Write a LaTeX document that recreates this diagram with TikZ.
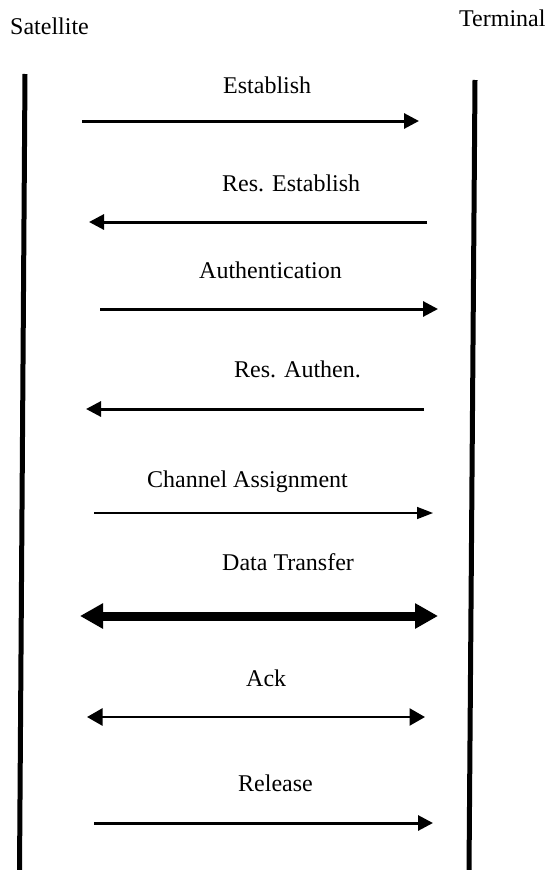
\documentclass[tikz,border=0pt]{standalone}
\usepackage{fontspec}
\setmainfont{Liberation Serif}
\usetikzlibrary{arrows.meta}
\begin{document}
\begin{tikzpicture}[x=1pt,y=-1pt,
  lbl/.style={anchor=base west,inner sep=0pt,font=\fontsize{24}{28}\selectfont},
  life/.style={line width=5pt},
  msg/.style={line width=3pt,-{Triangle[length=15pt,width=15pt]}},
  thinmsg/.style={line width=1.5pt,-{Triangle[length=16pt,width=12pt]}},
  bigmsg/.style={line width=9pt,{Triangle[length=23pt,width=24pt]}-{Triangle[length=23pt,width=24pt]}},
  ackmsg/.style={line width=2.5pt,{Triangle[length=15.5pt,width=17pt]}-{Triangle[length=15.5pt,width=17pt]}}]
\useasboundingbox (0,0) rectangle (547,870);
% headers
\node[lbl] (sat) at (10,34) {Satellite};
\node[lbl] (term) at (459,26) {Terminal};
% lifelines
\coordinate (lt) at (25,74);
\coordinate (lb) at (19.5,872);
\coordinate (rt) at (475,80);
\coordinate (rb) at (469,872);
\draw[life] (lt) -- (lb);
\draw[life] (rt) -- (rb);
% labels
\node[lbl] (l1) at (223,93.5) {Establish};
\node[lbl] (l2) at (222,191) {Res. Establish};
\node[lbl] (l3) at (199,278) {Authentication};
\node[lbl] (l4) at (234,377) {Res. Authen.};
\node[lbl] (l5) at (147,487) {Channel Assignment};
\node[lbl] (l6) at (222,570) {Data Transfer};
\node[lbl] (l7) at (246,686) {Ack};
\node[lbl] (l8) at (238,791) {Release};
% arrow endpoints
\coordinate (a1s) at (82,121);  \coordinate (a1e) at (419,121);
\coordinate (a2s) at (427,222); \coordinate (a2e) at (89,222);
\coordinate (a3s) at (100,309); \coordinate (a3e) at (438,309);
\coordinate (a4s) at (424,409); \coordinate (a4e) at (86,409);
\coordinate (a5s) at (94,513);  \coordinate (a5e) at (433,513);
\coordinate (a6s) at (80,616);  \coordinate (a6e) at (438,616);
\coordinate (a7s) at (87,717);  \coordinate (a7e) at (425,717);
\coordinate (a8s) at (94,823);  \coordinate (a8e) at (433,823);
% arrows
\draw[msg] (a1s) -- (a1e);
\draw[msg] (a2s) -- (a2e);
\draw[msg] (a3s) -- (a3e);
\draw[msg] (a4s) -- (a4e);
\draw[thinmsg] (a5s) -- (a5e);
\draw[bigmsg] (a6s) -- (a6e);
\draw[ackmsg] (a7s) -- (a7e);
\draw[msg] (a8s) -- (a8e);
\end{tikzpicture}
\end{document}
